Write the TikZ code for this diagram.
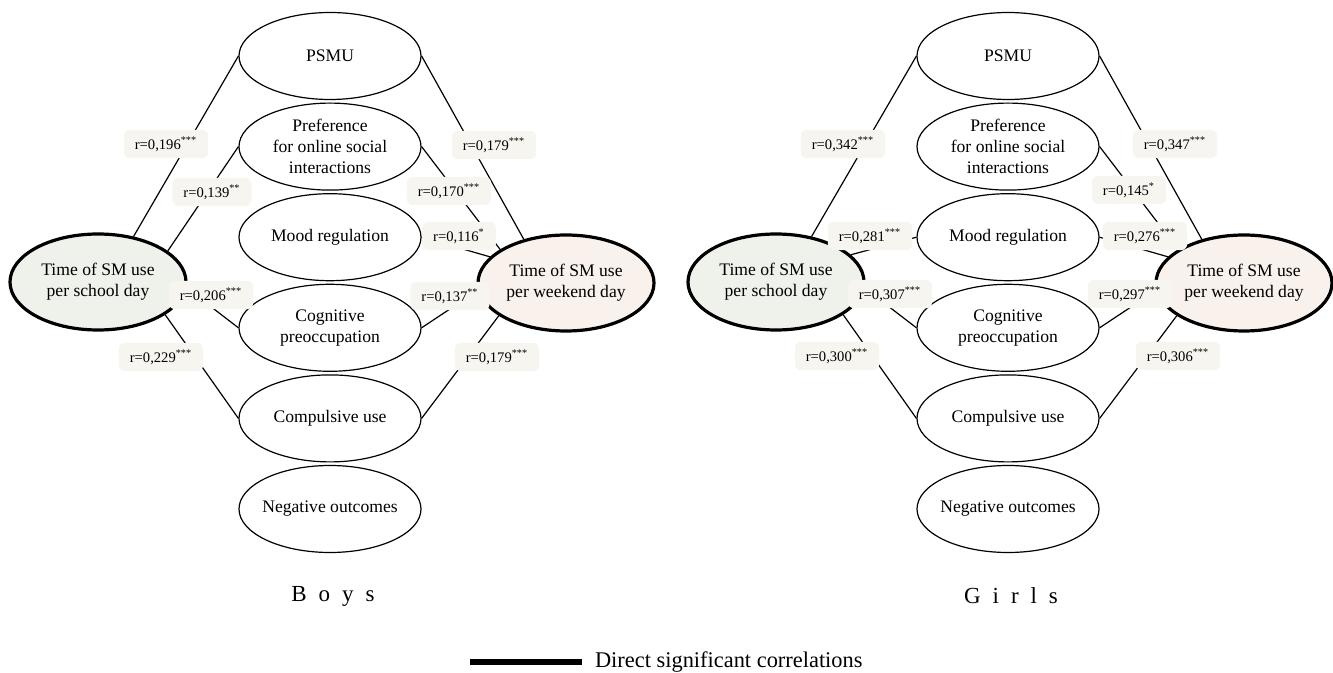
\documentclass[tikz,border=0pt]{standalone}
\usepackage{fontspec}
\setmainfont{Liberation Serif}
\usepackage{xcolor}
\usepackage{tikz}
\usetikzlibrary{positioning,shapes.geometric}

\definecolor{schoolfill}{HTML}{EEF2EB}
\definecolor{weekfill}{HTML}{F9F1EB}
\definecolor{tagfill}{HTML}{F7F5F0}

\newcommand{\rval}[2]{r=0,#1\textsuperscript{#2}}
\newcommand{\gap}{\hspace{.52em}}

\begin{document}
\begin{tikzpicture}[
  x=0.5pt, y=-0.5pt,
  node distance=1.2pt,
  every node/.style={font=\fontsize{8.8}{10.5}\selectfont, align=center},
  factor/.style={draw, ellipse, line width=0.6pt, fill=white, minimum width=91pt, minimum height=43.5pt, inner xsep=-3.5pt, inner ysep=1pt},
  timeuse/.style={draw, ellipse, line width=1.6pt, minimum width=88pt, minimum height=48pt, inner sep=1pt},
  corr/.style={fill=tagfill, rounded corners=3pt, font=\fontsize{7.3}{8}\selectfont, inner xsep=5.5pt, minimum height=12pt},
  link/.style={draw, line width=0.6pt},
  group/.style={font=\fontsize{11.5}{13}\selectfont}
]
\useasboundingbox (0,0) rectangle (1333,673);

% boys
\node[factor] (bpsmu) at (330,56) {PSMU};
\node[factor, below=of bpsmu] (bpref) {Preference\\for online social\\interactions};
\node[factor, below=of bpref] (bmood) {Mood regulation};
\node[factor, below=of bmood] (bcog) {Cognitive\\preoccupation};
\node[factor, below=of bcog] (bcomp) {Compulsive use};
\node[factor, below=of bcomp] (bneg) {Negative outcomes};
\node[timeuse, fill=schoolfill] (bschool) at (98,282) {Time of SM use\\per school day};
\node[timeuse, fill=weekfill] (bweek) at (566,283) {Time of SM use\\per weekend day};

\draw[link] (bschool.52) -- (bpsmu.west);
\draw[link] (bschool.24) -- (bpref.west);
\draw[link] (bschool.-4) -- (bcog.west);
\draw[link] (bschool.-26) -- (bcomp.west);
\draw[link] (bpsmu.east) -- (bweek.134);
\draw[link] (bpref.east) -- (bweek.153);
\draw[link] (bmood.east) -- (bweek.161);
\draw[link] (bcog.east) -- (bweek.185);
\draw[link] (bcomp.east) -- (bweek.206);

\node[corr] (b1) at (166,144) {\rval{196}{***}};
\node[corr] (b2) at (212,192) {\rval{139}{**}};
\node[corr] (b3) at (211,295) {\rval{206}{***}};
\node[corr] (b4) at (161,357) {\rval{229}{***}};
\node[corr] (b5) at (494,145) {\rval{179}{***}};
\node[corr] (b6) at (449,191) {\rval{170}{***}};
\node[corr] (b7) at (459,236) {\rval{116}{*}};
\node[corr] (b8) at (450,296) {\rval{137}{**}};
\node[corr] (b9) at (497,357) {\rval{179}{***}};

\node[group] (boys) at (333,596) {B\gap o\gap y\gap s};

% girls
\node[factor] (gpsmu) at (1008,56) {PSMU};
\node[factor, below=of gpsmu] (gpref) {Preference\\for online social\\interactions};
\node[factor, below=of gpref] (gmood) {Mood regulation};
\node[factor, below=of gmood] (gcog) {Cognitive\\preoccupation};
\node[factor, below=of gcog] (gcomp) {Compulsive use};
\node[factor, below=of gcomp] (gneg) {Negative outcomes};
\node[timeuse, fill=schoolfill] (gschool) at (776,282) {Time of SM use\\per school day};
\node[timeuse, fill=weekfill] (gweek) at (1244,283) {Time of SM use\\per weekend day};

\draw[link] (gschool.52) -- (gpsmu.west);
\draw[link] (gschool.20) -- (gmood.west);
\draw[link] (gschool.-4) -- (gcog.west);
\draw[link] (gschool.-26) -- (gcomp.west);
\draw[link] (gpsmu.east) -- (gweek.134);
\draw[link] (gpref.east) -- (gweek.153);
\draw[link] (gmood.east) -- (gweek.161);
\draw[link] (gcog.east) -- (gweek.185);
\draw[link] (gcomp.east) -- (gweek.206);

\node[corr] (g1) at (843,144) {\rval{342}{***}};
\node[corr] (g2) at (870,236) {\rval{281}{***}};
\node[corr] (g3) at (890,294) {\rval{307}{***}};
\node[corr] (g4) at (837,356) {\rval{300}{***}};
\node[corr] (g5) at (1175,144) {\rval{347}{***}};
\node[corr] (g6) at (1129,190) {\rval{145}{*}};
\node[corr] (g7) at (1145,236) {\rval{276}{***}};
\node[corr] (g8) at (1130,294) {\rval{297}{***}};
\node[corr] (g9) at (1178,356) {\rval{306}{***}};

\node[group] (girls) at (1011,596) {G\gap i\gap r\gap l\gap s};

% legend
\coordinate (leg0) at (470,662);
\coordinate (leg1) at (582,662);
\draw[line width=2.6pt] (leg0) -- (leg1);
\node[anchor=west, font=\fontsize{11.2}{13}\selectfont] (legtext) at (588,662) {Direct significant correlations};
\end{tikzpicture}
\end{document}
